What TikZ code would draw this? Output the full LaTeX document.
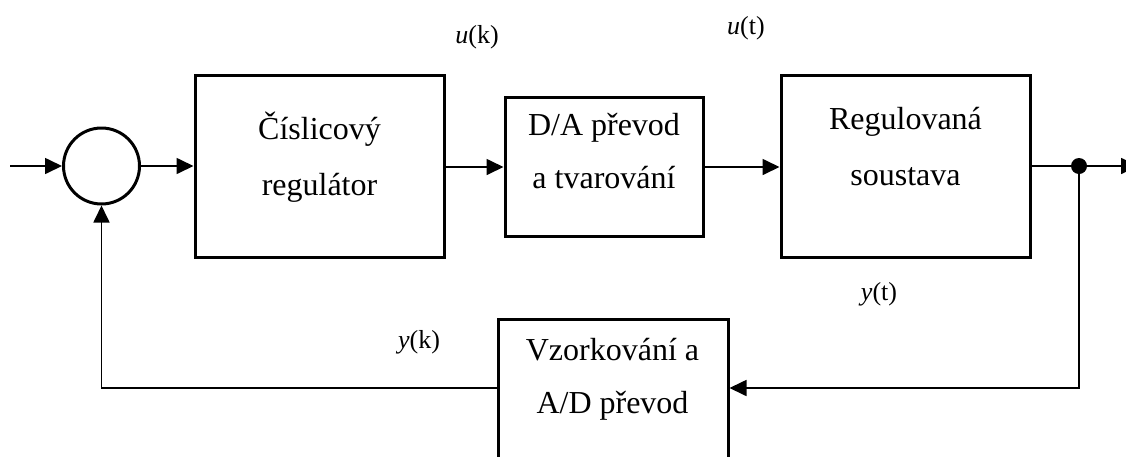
\documentclass[tikz,border=0pt]{standalone}
\usepackage{fontspec}
\setmainfont{Liberation Serif}
\usetikzlibrary{arrows.meta,calc}

\tikzset{
  blockbox/.style={draw, line width=3pt, fill=none, inner sep=0pt},
  sumnode/.style={draw, circle, line width=3pt, inner sep=0pt, minimum size=76pt},
  wire/.style={line width=1.7pt},
  flow/.style={wire, -{Triangle[length=17pt, width=16pt]}},
  boxtext/.style={inner sep=0pt, anchor=base, font=\fontsize{32pt}{38pt}\selectfont},
  siglabel/.style={inner sep=0pt, anchor=base, font=\fontsize{26pt}{30pt}\selectfont},
  junction/.style={circle, fill, inner sep=0pt, minimum size=16pt}
}

\begin{document}
\begin{tikzpicture}[x=1pt, y=-1pt]
  \useasboundingbox (0,0) rectangle (1126,456);

  % summing junction
  \node[sumnode] (sum) at (101.5,166) {};

  % forward path blocks
  \node[blockbox, minimum width=249pt, minimum height=182pt] (ctrl) at (319.5,166) {};
  \node[blockbox, minimum width=198pt, minimum height=139pt] (dac) at (604,166.5) {};
  \node[blockbox, minimum width=249pt, minimum height=182pt] (plant) at (905.5,166) {};

  % feedback block (runs past the lower edge)
  \node[blockbox, minimum width=230pt, minimum height=142pt] (adc) at (613,390) {};

  % block texts
  \node[boxtext] (ctrlA) at (319.5,139) {Číslicový};
  \node[boxtext] (ctrlB) at (319.5,195) {regulátor};
  \node[boxtext] (dacA) at (604,135) {D/A převod};
  \node[boxtext] (dacB) at (604,188) {a tvarování};
  \node[boxtext] (plantA) at (905.5,129) {Regulovaná};
  \node[boxtext] (plantB) at (905.5,185) {soustava};
  \node[boxtext] (adcA) at (612.5,360) {Vzorkování a};
  \node[boxtext] (adcB) at (612.5,413) {A/D převod};

  % signal labels
  \node[siglabel] (uk) at (477,43) {\textit{u}(k)};
  \node[siglabel] (ut) at (746,34) {\textit{u}(t)};
  \node[siglabel] (yt) at (879,300) {\textit{y}(t)};
  \node[siglabel] (yk) at (419,348) {\textit{y}(k)};

  % free ends and branch point
  \coordinate (in) at (10,166);
  \node[junction] (branch) at (1079,166) {};
  \coordinate (out) at (1138,166);
  \coordinate (fbright) at (1079,388);
  \coordinate (fbleft) at (101.5,388);

  % forward path
  \draw[flow] (in) -- (sum.west);
  \draw[flow] (sum.east) -- (sum.east -| ctrl.west);
  \draw[flow] (ctrl.east |- 0,167) -- (dac.west |- 0,167);
  \draw[flow] (dac.east |- 0,167) -- (plant.west |- 0,167);
  \draw[wire] (plant.east) -- (branch);
  \draw[flow] (branch) -- (out);

  % feedback path
  \draw[flow] (branch) -- (fbright) -- (adc.east |- fbright);
  \draw[flow] (adc.west |- fbleft) -- (fbleft) -- (sum.south);
\end{tikzpicture}
\end{document}
